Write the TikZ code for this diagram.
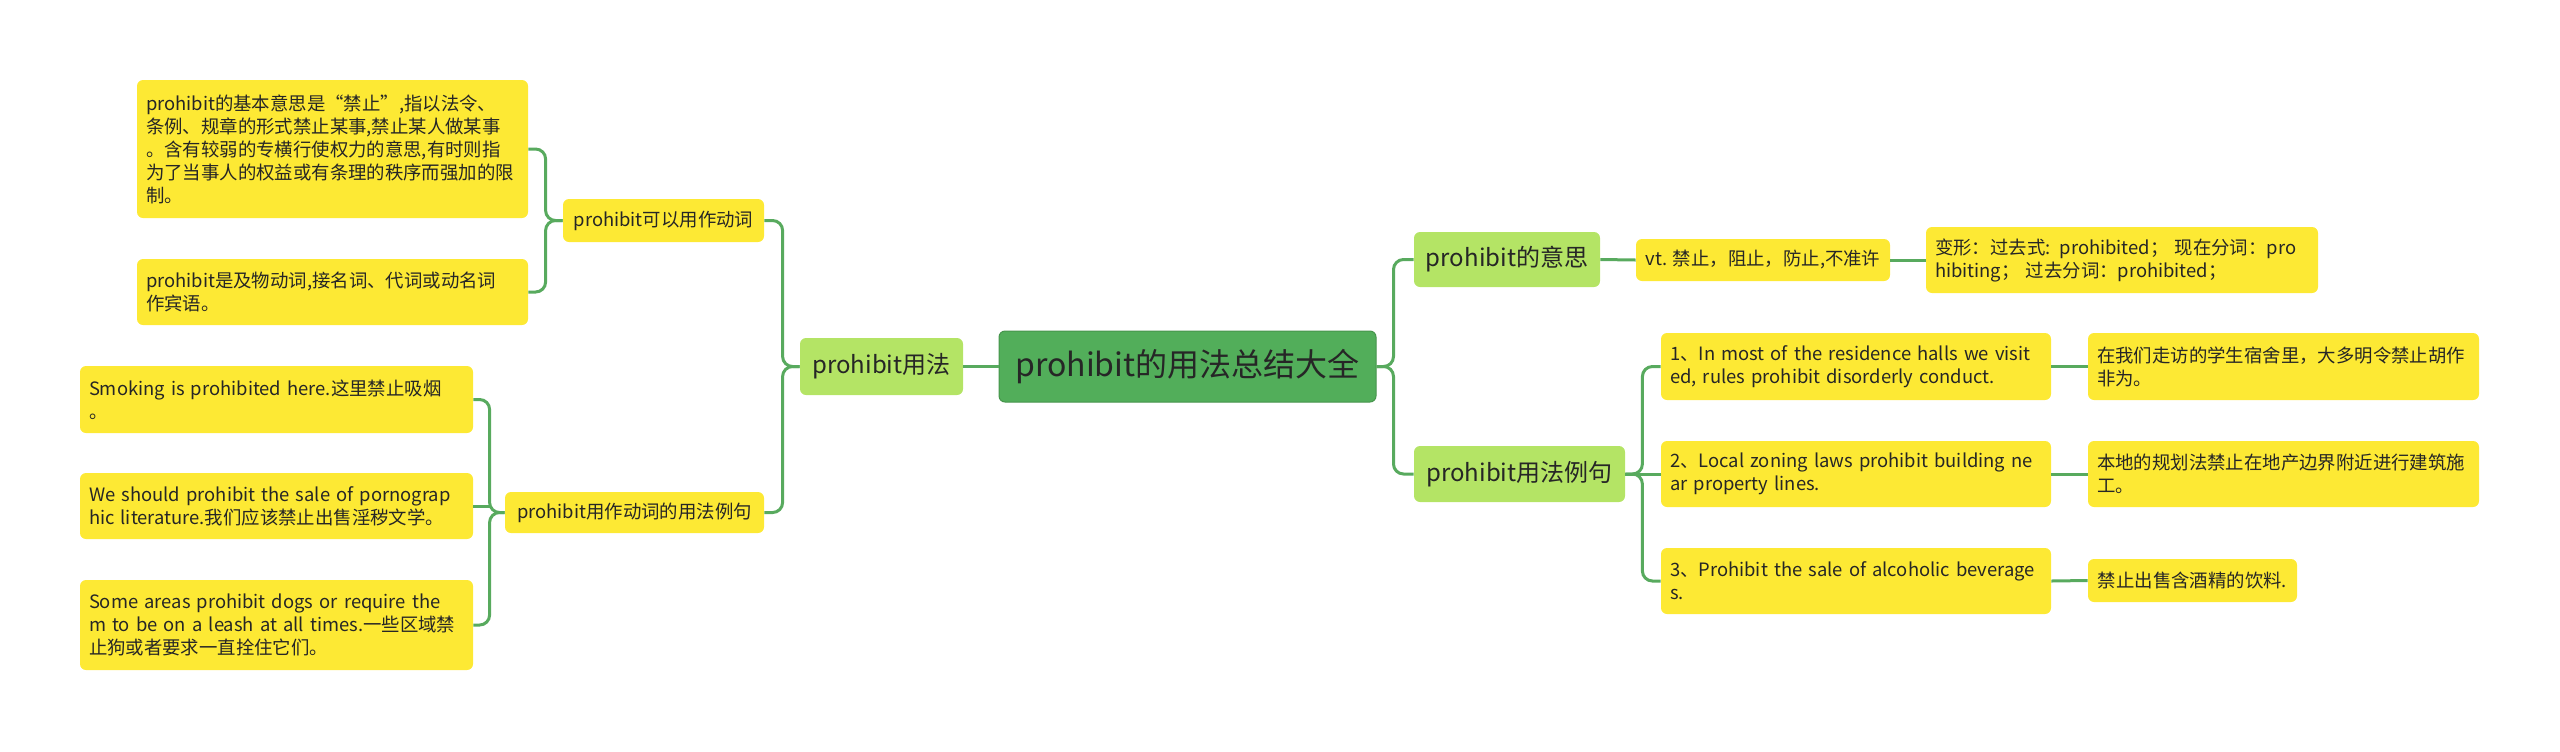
\documentclass[tikz,border=0pt]{standalone}
\usepackage{fontspec}
\setmainfont{Noto Sans CJK SC}
\definecolor{rootgreen}{HTML}{52AE5A}
\definecolor{midgreen}{HTML}{B4E465}
\definecolor{leafyellow}{HTML}{FDE934}
\definecolor{linkgreen}{HTML}{58AA5E}
\definecolor{inkgray}{HTML}{262626}
\tikzset{
  box/.style={rounded corners=3pt, inner xsep=4.5pt, inner ysep=2pt, text=inkgray, align=left},
  leaf/.style={box, fill=leafyellow, font=\fontsize{9.2}{11.5}\selectfont},
  tag/.style={leaf, align=center},
  branch/.style={box, fill=midgreen, align=center, font=\fontsize{12}{14}\selectfont},
  topic/.style={box, fill=rootgreen, draw=rootgreen!85!black, line width=0.5pt, align=center, font=\fontsize{16}{19}\selectfont},
  link/.style={draw=linkgreen, line width=1.5pt, rounded corners=5pt}
}

\begin{document}
\begin{tikzpicture}[x=0.5pt, y=-0.5pt]
\useasboundingbox (0,0) rectangle (2560,751);

% centre
\node[topic, minimum width=188.5pt, minimum height=35.5pt] (root) at (1187.5,366.5) {prohibit的用法总结大全};

% left side
\node[branch, minimum width=81.5pt, minimum height=28.5pt] (usage) at (881.5,366.5) {prohibit用法};
\node[tag, minimum width=100.5pt, minimum height=21.5pt] (verb) at (663.5,220.5) {prohibit可以用作动词};
\node[tag, minimum width=129.5pt, minimum height=20.5pt] (verbex) at (634.5,512.5) {prohibit用作动词的用法例句};
\node[leaf, text width=186.5pt, minimum height=69pt] (sense) at (332.5,149) {prohibit的基本意思是“禁止”,指以法令、\\条例、规章的形式禁止某事,禁止某人做某事\\。含有较弱的专横行使权力的意思,有时则指\\为了当事人的权益或有条理的秩序而强加的限\\制。};
\node[leaf, text width=186.5pt, minimum height=33pt] (trans) at (332.5,292) {prohibit是及物动词,接名词、代词或动名词\\作宾语。};
\node[leaf, text width=187.5pt, minimum height=33.5pt] (smoke) at (276.5,399.5) {Smoking is prohibited here.这里禁止吸烟\\。};
\node[leaf, text width=187.5pt, minimum height=33pt] (sale) at (276.5,506) {We should prohibit the sale of pornograp\\hic literature.我们应该禁止出售淫秽文学。};
\node[leaf, text width=187.5pt, minimum height=45pt] (dogs) at (276.5,625) {Some areas prohibit dogs or require the\\m to be on a leash at all times.一些区域禁\\止狗或者要求一直拴住它们。};

% right side
\node[branch, minimum width=93pt, minimum height=27.5pt] (meaning) at (1507,259.5) {prohibit的意思};
\node[tag, minimum width=127pt, minimum height=21pt] (defn) at (1763,260) {vt. 禁止，阻止，防止,不准许};
\node[leaf, text width=187pt, minimum height=33pt] (forms) at (2122,260) {变形：过去式: prohibited；  现在分词：pro\\hibiting；  过去分词：prohibited；};
\node[branch, minimum width=105.5pt, minimum height=28pt] (examples) at (1519.5,474) {prohibit用法例句};
\node[leaf, text width=186pt, minimum height=33.5pt] (exa) at (1856,366.5) {1、In most of the residence halls we visit\\ed, rules prohibit disorderly conduct.};
\node[leaf, text width=186pt, minimum height=33pt] (exb) at (1856,474) {2、Local zoning laws prohibit building ne\\ar property lines.};
\node[leaf, text width=186pt, minimum height=33pt] (exc) at (1856,581) {3、Prohibit the sale of alcoholic beverage\\s.};
\node[leaf, text width=186.5pt, minimum height=33.5pt] (tra) at (2283.5,366.5) {在我们走访的学生宿舍里，大多明令禁止胡作\\非为。};
\node[leaf, text width=186.5pt, minimum height=33pt] (trb) at (2283.5,474) {本地的规划法禁止在地产边界附近进行建筑施\\工。};
\node[tag, minimum width=104.5pt, minimum height=21.5pt] (trc) at (2192.5,580.5) {禁止出售含酒精的饮料.};

% connectors
\draw[link] (root.west) -- (usage.east);
\draw[link] (usage.west) -- ++(-17,0) |- (verb.east);
\draw[link] (usage.west) -- ++(-17,0) |- (verbex.east);
\draw[link] (verb.west) -- ++(-17,0) |- (sense.east);
\draw[link] (verb.west) -- ++(-17,0) |- (trans.east);
\draw[link] (verbex.west) -- ++(-15,0) coordinate (exfork) |- (smoke.east);
\draw[link] (verbex.west) -- ++(-15,0) |- (dogs.east);
\draw[link] (sale.east) -- (sale.east -| exfork);
\draw[link] (root.east) -- ++(17,0) |- (meaning.west);
\draw[link] (root.east) -- ++(17,0) |- (examples.west);
\draw[link] (meaning.east) -- (defn.west);
\draw[link] (defn.east) -- (forms.west);
\draw[link] (examples.east) -- ++(17,0) |- (exa.west);
\draw[link] (examples.east) -- (exb.west);
\draw[link] (examples.east) -- ++(17,0) |- (exc.west);
\draw[link] (exa.east) -- (tra.west);
\draw[link] (exb.east) -- (trb.west);
\draw[link] (exc.east) -- (trc.west);
\end{tikzpicture}
\end{document}
